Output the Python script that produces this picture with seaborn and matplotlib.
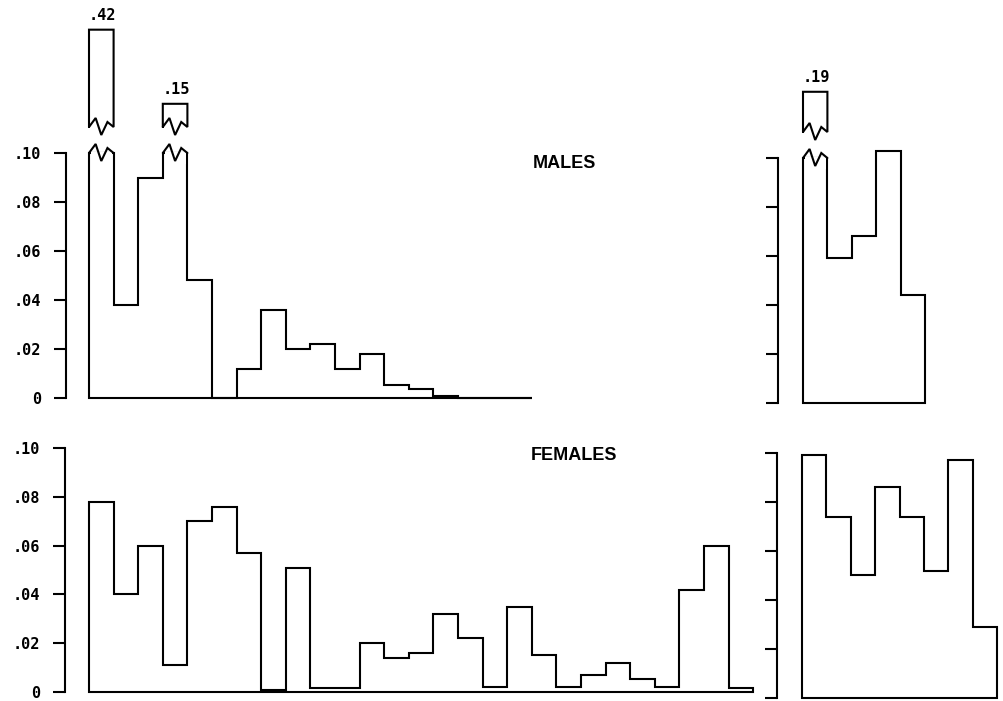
import numpy as np
import pandas as pd
import matplotlib
matplotlib.use("Agg")
import matplotlib.pyplot as plt
import seaborn as sns

# Relative frequency per interval
males_main = [0.42, 0.038, 0.090, 0.15, 0.048, 0.0, 0.012, 0.036, 0.020, 0.022,
              0.012, 0.018, 0.0055, 0.0035, 0.001, 0.0, 0.0, 0.0]
females_main = [0.078, 0.040, 0.060, 0.011, 0.070, 0.076, 0.057, 0.001, 0.051, 0.0015,
                0.0015, 0.020, 0.014, 0.016, 0.032, 0.022, 0.002, 0.035, 0.015, 0.002,
                0.007, 0.012, 0.0055, 0.002, 0.042, 0.060, 0.0015]
males_side = [0.19, 0.059, 0.068, 0.103, 0.044]
females_side = [0.099, 0.074, 0.050, 0.086, 0.074, 0.052, 0.097, 0.029]

y_ticks = [0, 0.02, 0.04, 0.06, 0.08, 0.10]
y_tick_labels = ["0", ".02", ".04", ".06", ".08", ".10"]
panel_titles = ["MALES", "FEMALES"]
CLIP = 0.10       # broken bars are cut at the top of the scale
BREAK_ABOVE = 0.12  # only values beyond this get a broken bar

sns.set_style("ticks")
plt.rcParams["font.family"] = ["DejaVu Sans Mono", "DejaVu Sans"]
plt.rcParams["text.color"] = "black"

W, H = 1004, 701
fig = plt.figure(figsize=(W / 100, H / 100), dpi=100)
fig.patch.set_facecolor("white")

LW = 1.5
MONO = dict(family="DejaVu Sans Mono", fontweight="bold", fontsize=11)


def place(ax, first_bin_px, bin_px, spine_px, right_px, y0_px, y10_px, ylo, yhi):
    """Position an axes so that data coordinates land on given pixel spots."""
    scale = (y0_px - y10_px) / CLIP
    top_px = y0_px - yhi * scale
    bot_px = y0_px - ylo * scale
    ax.set_position([spine_px / W, 1 - bot_px / H,
                     (right_px - spine_px) / W, (bot_px - top_px) / H])
    ax.set_xlim((spine_px - first_bin_px) / bin_px, (right_px - first_bin_px) / bin_px)
    ax.set_ylim(ylo, yhi)
    return scale


def style_axis(ax, labels):
    sns.despine(ax=ax, top=True, right=True, bottom=True)
    ax.spines["left"].set_bounds(0, CLIP)
    ax.spines["left"].set_linewidth(LW)
    ax.spines["left"].set_color("black")
    ax.set_xticks([])
    ax.set_yticks(y_ticks)
    if labels:
        ax.set_yticklabels(y_tick_labels, **MONO)
    else:
        ax.set_yticklabels([])
    ax.tick_params(axis="y", direction="out", length=9, width=LW, pad=9,
                   color="black", labelcolor="black")
    ax.set_xlabel("")
    ax.set_ylabel("")
    ax.set_facecolor("none")


def draw_hist(ax, values):
    vals = np.asarray(values, dtype=float)
    n = len(vals)
    shown = np.where(vals > BREAK_ABOVE, CLIP, vals)
    df = pd.DataFrame({"bin": np.arange(n) + 0.5, "freq": shown})
    sns.histplot(data=df, x="bin", weights="freq", binwidth=1, binrange=(0, n),
                 element="step", fill=True, facecolor="white", edgecolor="black",
                 linewidth=LW, joinstyle="miter", ax=ax, zorder=2)
    return vals


def break_bars(ax, vals, scale):
    px = 1.0 / scale
    zig_x = np.array([0.0, 0.27, 0.5, 0.75, 1.0])
    zig_y = np.array([0.0, 9.0, -8.0, 5.0, 0.0]) * px
    for i, v in enumerate(vals):
        if v <= BREAK_ABOVE:
            continue
        x0, x1 = i, i + 1
        # hide the flat top of the clipped bar, then draw the torn edge
        ax.fill_between([x0 + 0.07, x1 - 0.07], CLIP - 11 * px, CLIP + 1.2 * px,
                        color="white", lw=0, zorder=3)
        ax.plot(x0 + zig_x, CLIP + zig_y, color="black", lw=LW, zorder=4,
                solid_joinstyle="miter", clip_on=False)
        # detached upper piece, its height compressed on a log scale
        base = CLIP + 26 * px
        top = base + (72 * np.log(v / CLIP) - 6) * px
        xs = np.concatenate([[x0, x0, x1, x1], (x0 + zig_x)[::-1]])
        ys = np.concatenate([[base, top, top, base], (base + zig_y)[::-1]])
        ax.plot(xs, ys, color="black", lw=LW, zorder=4, solid_joinstyle="miter",
                clip_on=False)
        ax.annotate(f"{v:.2f}".lstrip("0"), xy=((x0 + x1) / 2, top),
                    xytext=(1, 5), textcoords="offset points",
                    ha="center", va="bottom", **MONO)


TITLE = dict(family="Liberation Sans", fontweight="bold", fontsize=13,
             ha="left", va="center", color="black")

# Main panels
ax_m = fig.add_axes([0, 0, 1, 1])
vals = draw_hist(ax_m, males_main)
s = place(ax_m, 89, 24.6, 66, 756, 398, 153, -0.005, 0.163)
style_axis(ax_m, True)
break_bars(ax_m, vals, s)
ax_m.text(18.05, 0.0957, panel_titles[0], **TITLE)

ax_f = fig.add_axes([0, 0, 1, 1])
vals = draw_hist(ax_f, females_main)
s = place(ax_f, 89, 24.6, 65, 756, 692, 448, -0.005, 0.11)
style_axis(ax_f, True)
break_bars(ax_f, vals, s)
ax_f.text(17.95, 0.0971, panel_titles[1], **TITLE)

# Side panels
ax_ms = fig.add_axes([0, 0, 1, 1])
vals = draw_hist(ax_ms, males_side)
s = place(ax_ms, 803, 24.4, 778, 1000, 403, 158, -0.005, 0.163)
style_axis(ax_ms, False)
break_bars(ax_ms, vals, s)

ax_fs = fig.add_axes([0, 0, 1, 1])
vals = draw_hist(ax_fs, females_side)
s = place(ax_fs, 802, 24.4, 777, 1000, 698, 453, -0.005, 0.11)
style_axis(ax_fs, False)
break_bars(ax_fs, vals, s)

fig.savefig("out.png", dpi=100, facecolor="white")
